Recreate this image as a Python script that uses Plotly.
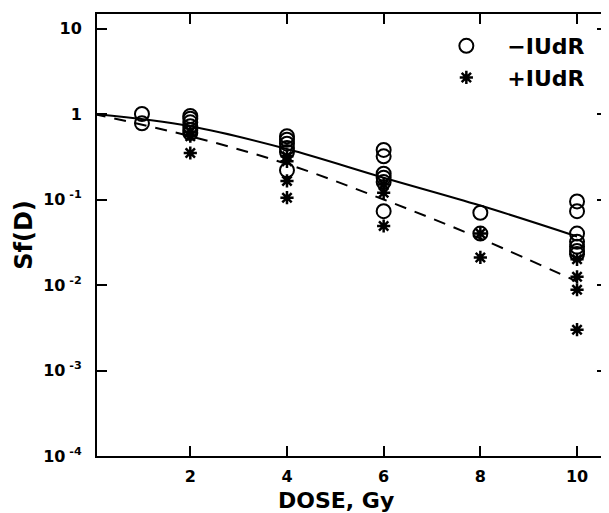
import plotly.graph_objects as go

# --- data ---
minus_dose = [1, 1,
              2, 2, 2, 2, 2, 2,
              4, 4, 4, 4, 4, 4,
              6, 6, 6, 6, 6, 6,
              8, 8,
              10, 10, 10, 10, 10, 10, 10]
minus_sf = [1.0, 0.78,
            0.95, 0.88, 0.80, 0.72, 0.65, 0.60,
            0.55, 0.50, 0.45, 0.40, 0.36, 0.22,
            0.38, 0.32, 0.20, 0.18, 0.16, 0.073,
            0.070, 0.040,
            0.095, 0.073, 0.040, 0.032, 0.028, 0.025, 0.023]

plus_dose = [2, 2, 2,
             4, 4, 4, 4,
             6, 6, 6,
             8, 8,
             10, 10, 10, 10]
plus_sf = [0.62, 0.55, 0.35,
           0.32, 0.28, 0.165, 0.105,
           0.15, 0.12, 0.049,
           0.040, 0.021,
           0.020, 0.0125, 0.0088, 0.0030]

fit_dose = [0, 2, 4, 6, 8, 10]
fit_minus = [1.0, 0.72, 0.39, 0.18, 0.085, 0.037]
fit_plus = [1.0, 0.55, 0.26, 0.10, 0.035, 0.011]

x_ticks = [2, 4, 6, 8, 10]
y_ticks = [10, 1, 0.1, 0.01, 0.001, 0.0001]
y_ticktext = ["<b>10</b>", "<b>1</b>",
              "<b>10<sup>\u00a0-1</sup></b>", "<b>10<sup>\u00a0-2</sup></b>",
              "<b>10<sup>\u00a0-3</sup></b>", "<b>10<sup>\u00a0-4</sup></b>"]

FONT = "DejaVu Sans"
SP = "\u00a0\u00a0\u00a0"

fig = go.Figure()
fig.add_trace(go.Scatter(x=fit_dose, y=fit_minus, mode="lines",
                         line=dict(color="black", width=2, shape="spline"),
                         showlegend=False, hoverinfo="skip"))
fig.add_trace(go.Scatter(x=fit_dose, y=fit_plus, mode="lines",
                         line=dict(color="black", width=2, shape="spline", dash="12px,9px"),
                         showlegend=False, hoverinfo="skip"))
fig.add_trace(go.Scatter(x=minus_dose, y=minus_sf, mode="markers", name=SP + "<b>\u2212IUdR</b>",
                         legendgroup="a",
                         marker=dict(symbol="circle-open", size=14, color="black",
                                     line=dict(width=2, color="black"))))
fig.add_trace(go.Scatter(x=plus_dose, y=plus_sf, mode="markers", name=SP + "<b>+IUdR</b>",
                         legendgroup="b",
                         marker=dict(symbol="asterisk-open", size=11, color="black",
                                     line=dict(width=2.5, color="black"))))

fig.update_xaxes(range=[0.07, 10.62], tickvals=x_ticks,
                 ticktext=[f"<b>{t}</b>" for t in x_ticks],
                 showline=True, linecolor="black", linewidth=2, mirror="ticks",
                 ticks="inside", ticklen=10, tickwidth=2, tickcolor="black",
                 showgrid=False, zeroline=False,
                 tickfont=dict(family=FONT, size=16, color="black"),
                 ticklabelstandoff=5)
fig.update_yaxes(type="log", range=[-4, 1.17], tickvals=y_ticks, ticktext=y_ticktext,
                 showline=True, linecolor="black", linewidth=2, mirror="ticks",
                 ticks="inside", ticklen=10, tickwidth=2, tickcolor="black",
                 showgrid=False, zeroline=False,
                 tickfont=dict(family=FONT, size=16, color="black"),
                 title=dict(text="<b>Sf(D)</b>", font=dict(family=FONT, size=24, color="black"),
                            standoff=4),
                 ticklabelstandoff=10)

fig.add_annotation(text="<b>DOSE, Gy</b>", xref="paper", yref="paper",
                   x=0.469, y=-0.1, xanchor="center", yanchor="middle",
                   showarrow=False, font=dict(family=FONT, size=22, color="black"))

# page body has an 8px margin, so the figure is sized to fill the 609x513 window from there
fig.update_layout(width=601, height=505,
                  margin=dict(l=89, r=2, t=6, b=57, autoexpand=False),
                  paper_bgcolor="white", plot_bgcolor="white",
                  showlegend=True,
                  legend=dict(x=0.685, y=0.975, xanchor="left", yanchor="top",
                              bgcolor="rgba(0,0,0,0)", borderwidth=0,
                              traceorder="grouped", tracegroupgap=0,
                              font=dict(family=FONT, size=22, color="black")))

fig.write_html("out.html")
